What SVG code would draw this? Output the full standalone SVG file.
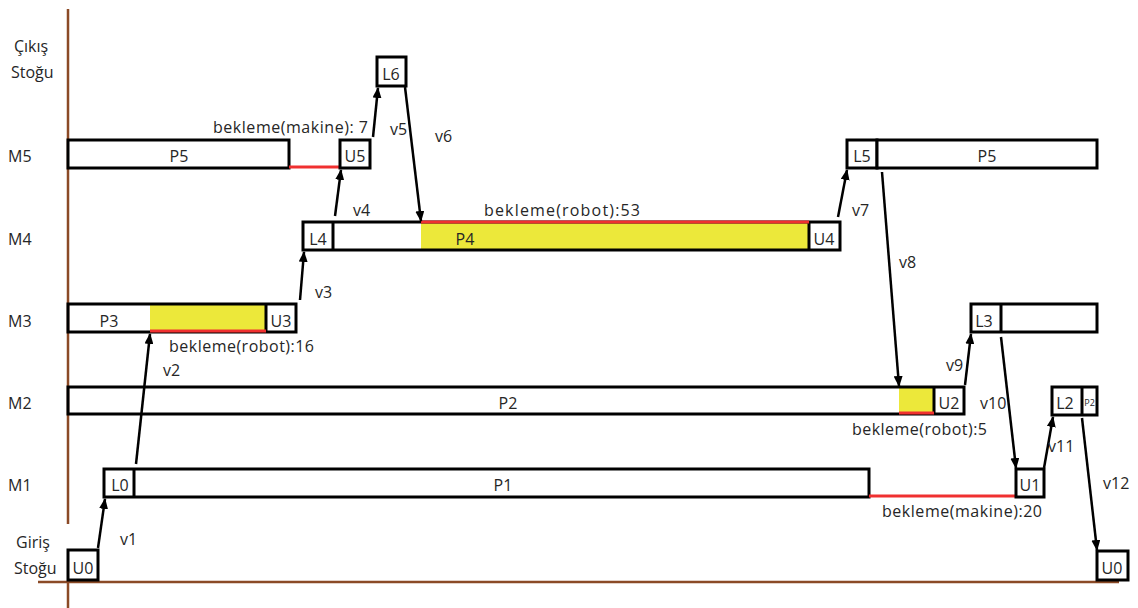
<svg xmlns="http://www.w3.org/2000/svg" width="1138" height="608" viewBox="0 0 1138 608">
  <style>
    text { font-family: "Open Sans", "Liberation Sans", sans-serif; font-size: 16px; fill: #262626; }
    .c { text-anchor: middle; }
    .box { fill: #ffffff; stroke: #000000; stroke-width: 3; }
    .open { fill: none; stroke: #000000; stroke-width: 3; }
    .sep { stroke: #000000; stroke-width: 3; }
    .wait { fill: #ece83a; stroke: none; }
    .red { stroke: #f03030; stroke-width: 3; }
    .axis { stroke: #8b4a26; stroke-width: 2.5; fill: none; }
    .arrow { stroke: #000000; stroke-width: 2.5; fill: none; marker-end: url(#head); }
  </style>
  <defs>
    <marker id="head" markerUnits="userSpaceOnUse" markerWidth="11" markerHeight="9" refX="10" refY="4.5" orient="auto">
      <path d="M0,0 L11,4.5 L0,9 z" fill="#000000"/>
    </marker>
  </defs>

  <rect width="1138" height="608" fill="#ffffff"/>

  <!-- axes -->
  <g id="axes">
    <line class="axis" x1="68" y1="9" x2="68" y2="524"/>
    <line class="axis" x1="68" y1="583" x2="68" y2="608"/>
    <line class="axis" x1="38" y1="582" x2="1119" y2="582"/>
  </g>

  <!-- row labels -->
  <g id="labels">
    <text x="14" y="52">Çıkış</text>
    <text x="11" y="78">Stoğu</text>
    <text x="8" y="162">M5</text>
    <text x="8" y="245">M4</text>
    <text x="8" y="327">M3</text>
    <text x="8" y="409">M2</text>
    <text x="8" y="491">M1</text>
    <text x="16" y="548">Giriş</text>
    <text x="14" y="574">Stoğu</text>
  </g>

  <!-- M5 -->
  <g id="m5-p5">
    <rect class="box" x="68" y="140" width="221" height="28"/>
    <text class="c" x="179" y="162">P5</text>
  </g>
  <g id="m5-wait">
    <line class="red" x1="289" y1="167" x2="340" y2="167"/>
    <text x="213" y="133" textLength="155" lengthAdjust="spacing">bekleme(makine): 7</text>
  </g>
  <g id="m5-u5">
    <rect class="box" x="340" y="140" width="30" height="28"/>
    <text class="c" x="355" y="162">U5</text>
  </g>
  <g id="m5-l5">
    <rect class="box" x="847" y="140" width="30" height="28"/>
    <text class="c" x="862" y="162">L5</text>
  </g>
  <g id="m5-p5b">
    <rect class="box" x="877" y="140" width="220" height="28"/>
    <text class="c" x="987" y="162">P5</text>
  </g>

  <!-- output buffer -->
  <g id="out-l6">
    <rect class="box" x="377" y="57" width="29" height="29"/>
    <text class="c" x="391" y="80">L6</text>
  </g>

  <!-- M4 -->
  <g id="m4">
    <rect x="421" y="222" width="388" height="28" class="wait"/>
    <rect class="open" x="303" y="222" width="537" height="28"/>
    <line class="sep" x1="333" y1="222" x2="333" y2="250"/>
    <line class="sep" x1="809" y1="222" x2="809" y2="250"/>
    <line class="red" x1="421" y1="222" x2="809" y2="222"/>
    <text class="c" x="318" y="245">L4</text>
    <text class="c" x="465" y="245">P4</text>
    <text class="c" x="824" y="245">U4</text>
    <text x="484" y="216" textLength="156" lengthAdjust="spacing">bekleme(robot):53</text>
  </g>

  <!-- M3 -->
  <g id="m3">
    <rect x="150" y="304" width="116" height="28" class="wait"/>
    <rect class="open" x="68" y="304" width="228" height="28"/>
    <line class="sep" x1="266" y1="304" x2="266" y2="332"/>
    <line class="red" x1="150" y1="331" x2="266" y2="331"/>
    <text class="c" x="109" y="327">P3</text>
    <text class="c" x="281" y="327">U3</text>
    <text x="169" y="352" textLength="145" lengthAdjust="spacing">bekleme(robot):16</text>
  </g>
  <g id="m3-l3">
    <rect class="open" x="971" y="304" width="126" height="28"/>
    <line class="sep" x1="1001" y1="304" x2="1001" y2="332"/>
    <text class="c" x="984" y="327">L3</text>
  </g>

  <!-- M2 -->
  <g id="m2">
    <rect x="899" y="387" width="35" height="27" class="wait"/>
    <rect class="open" x="68" y="387" width="896" height="27"/>
    <line class="sep" x1="934" y1="387" x2="934" y2="414"/>
    <line class="red" x1="899" y1="413" x2="934" y2="413"/>
    <text class="c" x="508" y="409">P2</text>
    <text class="c" x="949" y="409">U2</text>
    <text x="852" y="435" textLength="135" lengthAdjust="spacing">bekleme(robot):5</text>
  </g>
  <g id="m2-l2">
    <rect class="open" x="1052" y="387" width="45" height="28"/>
    <line class="sep" x1="1082" y1="387" x2="1082" y2="415"/>
    <text class="c" x="1065" y="409">L2</text>
    <text class="c" x="1089.5" y="406" style="font-size:9px">P2</text>
  </g>

  <!-- M1 -->
  <g id="m1">
    <rect class="open" x="104" y="469" width="765" height="28"/>
    <line class="sep" x1="134" y1="469" x2="134" y2="497"/>
    <text class="c" x="120" y="491">L0</text>
    <text class="c" x="503" y="491">P1</text>
  </g>
  <g id="m1-wait">
    <line class="red" x1="869" y1="496" x2="1016" y2="496"/>
    <text x="882" y="517" textLength="160" lengthAdjust="spacing">bekleme(makine):20</text>
  </g>
  <g id="m1-u1">
    <rect class="box" x="1016" y="469" width="28" height="28"/>
    <text class="c" x="1030" y="491">U1</text>
  </g>

  <!-- input buffer -->
  <g id="in-u0">
    <rect class="box" x="68" y="550" width="30" height="30"/>
    <text class="c" x="83" y="574">U0</text>
  </g>
  <g id="in-u0b">
    <rect class="box" x="1097" y="551" width="31" height="29"/>
    <text class="c" x="1112" y="574">U0</text>
  </g>

  <!-- robot moves -->
  <g id="connectors">
    <line class="arrow" x1="98" y1="548" x2="105" y2="499"/>
    <line class="arrow" x1="136" y1="464" x2="150" y2="334"/>
    <line class="arrow" x1="300" y1="300" x2="304" y2="252"/>
    <line class="arrow" x1="335" y1="216" x2="341" y2="170"/>
    <line class="arrow" x1="373" y1="137" x2="378" y2="88"/>
    <line class="arrow" x1="405" y1="87" x2="421" y2="221"/>
    <line class="arrow" x1="838" y1="217" x2="847" y2="170"/>
    <line class="arrow" x1="882" y1="172" x2="899" y2="386"/>
    <line class="arrow" x1="965" y1="385" x2="971" y2="334"/>
    <line class="arrow" x1="1001" y1="337" x2="1016" y2="468"/>
    <line class="arrow" x1="1044" y1="468" x2="1053" y2="417"/>
    <line class="arrow" x1="1082" y1="418" x2="1097" y2="550"/>
    <text x="120" y="545">v1</text>
    <text x="163" y="376">v2</text>
    <text x="315" y="298">v3</text>
    <text x="353" y="216">v4</text>
    <text x="390" y="135">v5</text>
    <text x="435" y="142">v6</text>
    <text x="852" y="216">v7</text>
    <text x="899" y="268">v8</text>
    <text x="946" y="371">v9</text>
    <text x="980" y="409">v10</text>
    <text x="1048" y="452">v11</text>
    <text x="1103" y="489">v12</text>
  </g>
</svg>
